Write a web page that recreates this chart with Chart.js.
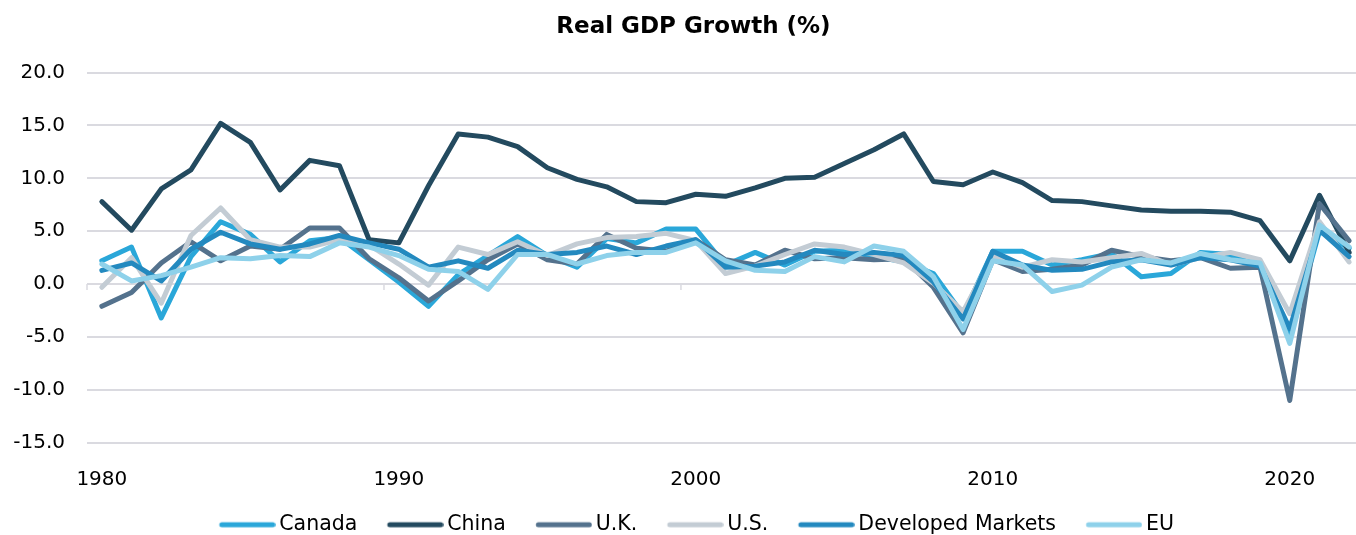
<!DOCTYPE html>
<html>
<head>
<meta charset="utf-8">
<title>Real GDP Growth (%)</title>
<script src="https://cdn.jsdelivr.net/npm/chart.js@4"></script>
<style>
  html, body { margin: 0; padding: 0; background: #fff; overflow: hidden; }
  #wrap { width: 1387px; height: 545px; }
</style>
</head>
<body>
<div id="wrap"><canvas id="gdp-chart"></canvas></div>
<script>
// Categories (years)
const years = ['1980', '1981', '1982', '1983', '1984', '1985', '1986', '1987', '1988', '1989',
  '1990', '1991', '1992', '1993', '1994', '1995', '1996', '1997', '1998', '1999',
  '2000', '2001', '2002', '2003', '2004', '2005', '2006', '2007', '2008', '2009',
  '2010', '2011', '2012', '2013', '2014', '2015', '2016', '2017', '2018', '2019',
  '2020', '2021', '2022'];

// Real GDP growth, % per year
const canada = [2.2, 3.5, -3.2, 2.6, 5.9, 4.7, 2.1, 4.1, 4.4, 2.3, 0.2, -2.1, 0.9, 2.7, 4.5, 2.7, 1.6, 4.3, 3.9, 5.2,
  5.2, 1.8, 3.0, 1.8, 3.1, 3.2, 2.6, 2.1, 1.0, -2.9, 3.1, 3.1, 1.8, 2.3, 2.9, 0.7, 1.0, 3.0, 2.8, 1.9, -5.1, 5.0, 3.4];
const china = [7.8, 5.1, 9.0, 10.8, 15.2, 13.4, 8.9, 11.7, 11.2, 4.2, 3.9, 9.3, 14.2, 13.9, 13.0, 11.0, 9.9, 9.2, 7.8, 7.7,
  8.5, 8.3, 9.1, 10.0, 10.1, 11.4, 12.7, 14.2, 9.7, 9.4, 10.6, 9.6, 7.9, 7.8, 7.4, 7.0, 6.9, 6.9, 6.8, 6.0, 2.2, 8.4, 3.0];
const uk = [-2.1, -0.8, 2.0, 4.0, 2.2, 3.6, 3.3, 5.3, 5.3, 2.4, 0.6, -1.6, 0.3, 2.3, 3.8, 2.3, 1.9, 4.7, 3.4, 3.1,
  4.2, 2.3, 1.8, 3.2, 2.4, 2.5, 2.3, 2.4, -0.3, -4.6, 2.3, 1.2, 1.4, 1.8, 3.2, 2.6, 2.2, 2.5, 1.5, 1.6, -11.0, 7.6, 4.1];
const us = [-0.3, 2.5, -1.8, 4.6, 7.2, 4.2, 3.5, 3.5, 4.2, 3.7, 1.9, -0.1, 3.5, 2.8, 4.0, 2.7, 3.8, 4.4, 4.5, 4.8,
  4.1, 1.0, 1.7, 2.8, 3.8, 3.5, 2.8, 2.0, 0.1, -2.6, 2.7, 1.6, 2.3, 2.1, 2.5, 2.9, 1.8, 2.5, 3.0, 2.3, -2.8, 5.9, 2.1];
const developed = [1.3, 2.0, 0.3, 3.3, 4.9, 3.8, 3.3, 3.8, 4.6, 3.9, 3.3, 1.6, 2.2, 1.5, 3.2, 2.8, 3.0, 3.6, 2.8, 3.6,
  4.2, 1.6, 1.7, 2.1, 3.2, 2.8, 3.0, 2.7, 0.2, -3.3, 3.1, 1.8, 1.3, 1.4, 2.1, 2.3, 1.8, 2.5, 2.3, 1.7, -4.2, 5.1, 2.6];
const eu = [1.9, 0.3, 0.8, 1.6, 2.5, 2.4, 2.7, 2.6, 3.9, 3.5, 2.7, 1.4, 1.2, -0.5, 2.8, 2.8, 1.9, 2.7, 3.0, 3.0,
  3.9, 2.2, 1.3, 1.2, 2.6, 2.1, 3.6, 3.1, 0.7, -4.3, 2.2, 1.8, -0.7, -0.1, 1.6, 2.3, 2.0, 2.9, 2.3, 2.0, -5.6, 5.6, 3.5];

const seriesNames = ['Canada', 'China', 'U.K.', 'U.S.', 'Developed Markets', 'EU'];
const seriesData = [canada, china, uk, us, developed, eu];
const seriesColors = ['#2AA7D9', '#234A5F', '#54728D', '#C3CCD4', '#2389BF', '#8ED1EA'];

const gridColor = '#DADAE0';
const fontFamily = "'DejaVu Sans', sans-serif";

Chart.defaults.font.family = fontFamily;
Chart.defaults.color = '#000';

// legend swatch: a thick rounded line, shifted right inside the image
// so that it sits just before its label
function legendSwatch(color) {
  const c = document.createElement('canvas');
  c.width = 69;
  c.height = 8;
  const g = c.getContext('2d');
  g.strokeStyle = color;
  g.lineWidth = 5;
  g.lineCap = 'round';
  g.beginPath();
  g.moveTo(15.25, 4);
  g.lineTo(66.25, 4);
  g.stroke();
  return c;
}

// small tick marks on the zero line, at decade boundaries
const zeroTicks = {
  id: 'zeroTicks',
  beforeDatasetsDraw(chart) {
    const { ctx, scales: { x, y } } = chart;
    const y0 = y.getPixelForValue(0);
    const half = (x.getPixelForValue(1) - x.getPixelForValue(0)) / 2;
    ctx.save();
    ctx.strokeStyle = gridColor;
    ctx.lineWidth = 1.5;
    years.forEach((yr, i) => {
      if (Number(yr) % 10 !== 0) return;
      const px = x.getPixelForValue(i) - half;
      ctx.beginPath();
      ctx.moveTo(px, y0);
      ctx.lineTo(px, y0 + 6);
      ctx.stroke();
    });
    ctx.restore();
  }
};

const datasets = seriesNames.map((name, i) => ({
  label: name,
  data: seriesData[i],
  borderColor: seriesColors[i],
  backgroundColor: seriesColors[i],
  borderWidth: 5,
  borderJoinStyle: 'round',
  borderCapStyle: 'round',
  pointRadius: 0,
  pointHoverRadius: 0,
  pointStyle: legendSwatch(seriesColors[i]),
  tension: 0,
  // last series drawn on top, like the original
  order: seriesNames.length - i
}));

new Chart(document.getElementById('gdp-chart'), {
  type: 'line',
  data: { labels: years, datasets: datasets },
  plugins: [zeroTicks],
  options: {
    responsive: true,
    maintainAspectRatio: false,
    animation: false,
    devicePixelRatio: 1,
    layout: { padding: 0 },
    plugins: {
      title: {
        display: true,
        text: 'Real GDP Growth (%)',
        color: '#000',
        font: { family: fontFamily, size: 23, weight: 'bold' },
        padding: { top: 13, bottom: 32 }
      },
      legend: {
        position: 'bottom',
        labels: {
          usePointStyle: true,
          pointStyleWidth: 56,
          padding: 23.75,
          color: '#000',
          font: { family: fontFamily, size: 20.5 },
          sort: (a, b) => a.datasetIndex - b.datasetIndex
        }
      },
      tooltip: { enabled: false }
    },
    scales: {
      x: {
        offset: true,
        grid: { display: false },
        border: { display: false },
        ticks: {
          autoSkip: false,
          maxRotation: 0,
          padding: 17,
          color: '#000',
          font: { size: 20 },
          callback: function (v) {
            const l = this.getLabelForValue(v);
            return Number(l) % 10 === 0 ? l : '';
          }
        },
        afterFit: (s) => { s.height = 48; }
      },
      y: {
        min: -15,
        max: 20,
        ticks: {
          stepSize: 5,
          padding: 22,
          color: '#000',
          font: { size: 20 },
          callback: (v) => v.toFixed(1)
        },
        grid: { color: gridColor, lineWidth: 2, drawTicks: false },
        border: { display: false },
        afterFit: (s) => { s.width = 87; }
      },
      // empty strip on the right, the plot runs past the cropped edge
      yRight: {
        position: 'right',
        display: true,
        grid: { display: false },
        border: { display: false },
        ticks: { display: false },
        afterFit: (s) => { s.width = 23; }
      }
    }
  }
});
</script>
</body>
</html>
